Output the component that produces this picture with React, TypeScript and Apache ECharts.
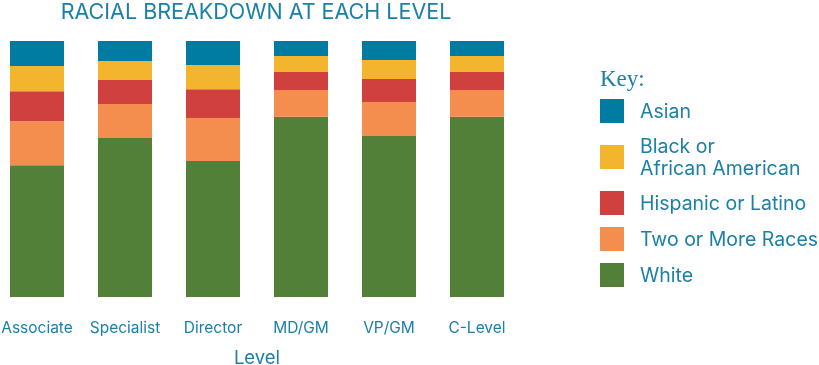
import React, { useEffect, useRef } from "react";
import * as echarts from "echarts";

const categories = ["Associate", "Specialist", "Director", "MD/GM", "VP/GM", "C-Level"];
const asian = [9.8, 7.8, 9.4, 5.9, 7.4, 5.9];
const black = [9.8, 7.4, 9.4, 6.2, 7.4, 6.2];
const hispanic = [11.7, 9.4, 11.3, 7.0, 9.0, 7.0];
const twoOrMore = [17.2, 13.3, 16.8, 10.5, 13.3, 10.5];
const white = [51.5, 62.1, 53.1, 70.4, 62.9, 70.4];

const TEXT = "#1a80a8";
const FONT = "Inter";

export default function App() {
  const ref = useRef<HTMLDivElement>(null);
  useEffect(() => {
    if (!ref.current) return;
    const chart = echarts.init(ref.current, undefined, { renderer: "svg" });
    const mk = (name: string, data: number[], color: string) => ({
      name,
      type: "bar",
      stack: "total",
      data,
      barWidth: 54,
      itemStyle: { color },
      emphasis: { disabled: true },
    });
    chart.setOption({
      animation: false,
      title: {
        text: "RACIAL BREAKDOWN AT EACH LEVEL",
        left: 256,
        textAlign: "center",
        top: 0,
        padding: 0,
        textStyle: { color: TEXT, fontFamily: FONT, fontSize: 21.5, fontWeight: 400, lineHeight: 21 },
      },
      graphic: [
        {
          type: "text",
          x: 600,
          y: 78,
          style: {
            text: "Key:",
            fill: TEXT,
            font: "23px 'Liberation Serif'",
            verticalAlign: "middle",
          },
        },
      ],
      legend: {
        orient: "vertical",
        left: 600,
        top: 99,
        padding: 0,
        itemWidth: 24,
        itemHeight: 24,
        itemGap: 12,
        icon: "rect",
        selectedMode: false,
        data: ["Asian", "Black or\nAfrican American", "Hispanic or Latino", "Two or More Races", "White"],
        textStyle: {
          color: TEXT,
          fontFamily: FONT,
          fontSize: 19.5,
          lineHeight: 22,
          padding: [0, 0, 0, 11],
        },
      },
      grid: { left: -7, width: 528, top: 41, bottom: 68, outerBoundsMode: "none" },
      xAxis: {
        type: "category",
        data: categories,
        axisLine: { show: false },
        axisTick: { show: false },
        axisLabel: { color: TEXT, fontFamily: FONT, fontSize: 15.5, margin: 22, interval: 0 },
        name: "Level",
        nameLocation: "middle",
        nameGap: 60,
        nameTextStyle: { color: TEXT, fontFamily: FONT, fontSize: 18.5, lineHeight: 14, verticalAlign: "middle" },
      },
      yAxis: { type: "value", min: 0, max: 100, show: false, splitLine: { show: false } },
      series: [
        mk("White", white, "#528039"),
        mk("Two or More Races", twoOrMore, "#f48e4f"),
        mk("Hispanic or Latino", hispanic, "#d0403e"),
        mk("Black or\nAfrican American", black, "#f4b52e"),
        mk("Asian", asian, "#007ca3"),
      ],
    });
    return () => chart.dispose();
  }, []);
  return (
    <div
      ref={ref}
      style={{ position: "fixed", left: 0, top: 0, width: 819, height: 365 }}
    />
  );
}
